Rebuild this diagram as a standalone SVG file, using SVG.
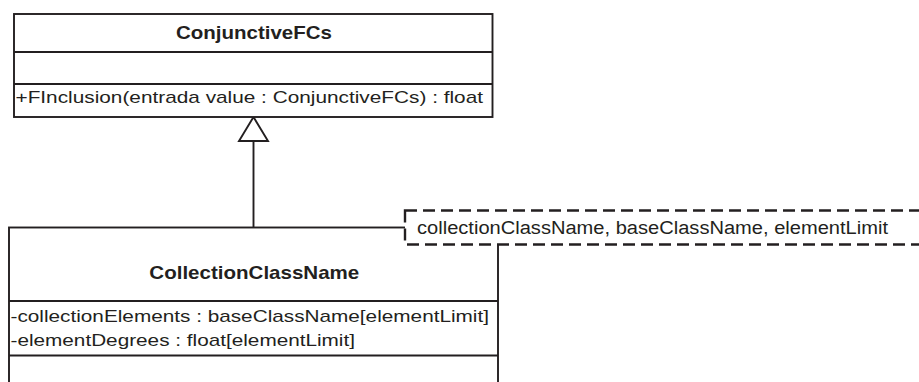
<svg xmlns="http://www.w3.org/2000/svg" width="919" height="382" viewBox="0 0 919 382">
  <style>
    .box { fill: #ffffff; stroke: #231f20; stroke-width: 1.9; }
    .line { fill: none; stroke: #231f20; stroke-width: 1.9; }
    .dash { fill: #ffffff; stroke: #231f20; stroke-width: 2.4; stroke-dasharray: 12 6; }
    .title { font-family: "Liberation Sans", Arial, sans-serif; font-size: 18.6px; font-weight: bold; fill: #231f20; }
    .member { font-family: "Liberation Sans", Arial, sans-serif; font-size: 17px; fill: #231f20; }
    .param { font-family: "Liberation Sans", Arial, sans-serif; font-size: 19.2px; fill: #231f20; }
  </style>

  <!-- generalization connector -->
  <g id="connectors">
    <line class="line" x1="253.5" y1="141" x2="253.5" y2="227.5"/>
    <polygon class="line" points="253.5,117 239,141 268,141"/>
  </g>

  <!-- superclass -->
  <g id="ConjunctiveFCs">
    <rect class="box" x="14" y="14" width="478.5" height="103"/>
    <line class="line" x1="14" y1="52" x2="492.5" y2="52"/>
    <line class="line" x1="14" y1="84" x2="492.5" y2="84"/>
    <text class="title" x="176" y="38.5" textLength="156" lengthAdjust="spacingAndGlyphs">ConjunctiveFCs</text>
    <text class="member" x="15.5" y="102.5" textLength="467.5" lengthAdjust="spacingAndGlyphs">+FInclusion(entrada value : ConjunctiveFCs) : float</text>
  </g>

  <!-- template class -->
  <g id="CollectionClassName">
    <rect class="box" x="9" y="227.5" width="489" height="170"/>
    <line class="line" x1="9" y1="301" x2="498" y2="301"/>
    <line class="line" x1="9" y1="355.5" x2="498" y2="355.5"/>
    <text class="title" x="149.3" y="279" textLength="210" lengthAdjust="spacingAndGlyphs">CollectionClassName</text>
    <text class="member" x="10.5" y="322" textLength="478.5" lengthAdjust="spacingAndGlyphs">-collectionElements : baseClassName[elementLimit]</text>
    <text class="member" x="10.5" y="345.5" textLength="344.5" lengthAdjust="spacingAndGlyphs">-elementDegrees : float[elementLimit]</text>
  </g>

  <!-- template parameters -->
  <g id="templateParameters">
    <rect class="dash" x="405" y="210.5" width="530" height="34"/>
    <text class="param" x="417" y="234" textLength="471" lengthAdjust="spacingAndGlyphs">collectionClassName, baseClassName, elementLimit</text>
  </g>
</svg>
